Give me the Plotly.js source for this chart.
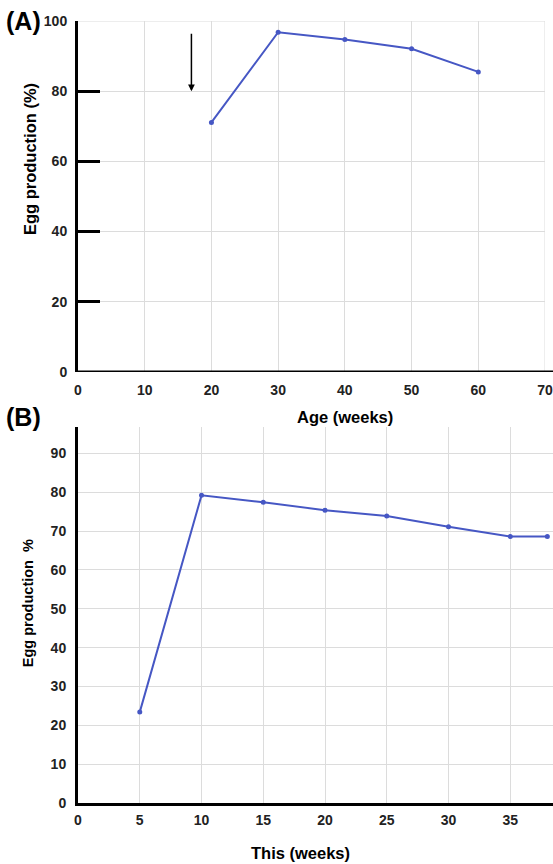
<!DOCTYPE html>
<html>
<head>
<meta charset="utf-8">
<script src="https://cdn.plot.ly/plotly-3.0.1.min.js"></script>
<style>html,body{margin:0;padding:0;background:#fff;}#chart{width:553px;height:864px;}</style>
</head>
<body>
<div id="chart"></div>
<script>
// Panel A data
const ageWeeks = [20, 30, 40, 50, 60];
const eggProdA = [71.1, 96.8, 94.7, 92.1, 85.5];
const arrowAge = 17;
const arrowTipY = 80;
// Panel B data
const thisWeeks = [5, 10, 15, 20, 25, 30, 35, 38];
const eggProdB = [23.4, 79.2, 77.4, 75.4, 73.9, 71.1, 68.6, 68.6];
// Tick labels
const xTicksA = [0, 10, 20, 30, 40, 50, 60, 70];
const yTicksA = [0, 20, 40, 60, 80, 100];
const xTicksB = [0, 5, 10, 15, 20, 25, 30, 35];
const yTicksB = [0, 10, 20, 30, 40, 50, 60, 70, 80, 90];

const lineColor = '#4657c4';
const gridColor = '#dcdcdc';
const fontFam = 'Liberation Sans, Arial, sans-serif';
const tickFont = {family: fontFam, size: 14, color: '#222', weight: 'bold'};

const traces = [
  {x: ageWeeks, y: eggProdA, xaxis: 'x', yaxis: 'y', mode: 'lines+markers',
   line: {color: lineColor, width: 2}, marker: {color: lineColor, size: 5}},
  {x: thisWeeks, y: eggProdB, xaxis: 'x2', yaxis: 'y2', mode: 'lines+markers',
   line: {color: lineColor, width: 2}, marker: {color: lineColor, size: 5}}
];

const layout = {
  width: 553, height: 864,
  margin: {l: 78, r: 0, t: 21, b: 61},
  showlegend: false,
  paper_bgcolor: '#fff', plot_bgcolor: '#fff',
  xaxis: {domain: [0, 0.9832], anchor: 'y', range: [0, 70], tickvals: xTicksA,
    showgrid: true, gridcolor: gridColor, gridwidth: 1, zeroline: false,
    showline: false, ticks: '', tickfont: tickFont, ticklabelstandoff: 8,
    ticklabeloverflow: 'allow'},
  yaxis: {domain: [0.5512, 1], anchor: 'x', range: [0, 100], tickvals: yTicksA,
    showgrid: true, gridcolor: gridColor, zeroline: false,
    showline: true, linecolor: '#000', linewidth: 3,
    ticks: 'inside', ticklen: 22, tickwidth: 3, tickcolor: '#000',
    tickfont: tickFont, ticklabelstandoff: 5},
  xaxis2: {domain: [0, 1], anchor: 'y2', range: [0, 38.46], tickvals: xTicksB,
    showgrid: true, gridcolor: gridColor, zeroline: false,
    showline: true, linecolor: '#000', linewidth: 3, ticks: '', tickfont: tickFont,
    ticklabelstandoff: 2},
  yaxis2: {domain: [0, 0.4808], anchor: 'x2', range: [0, 96.8], tickvals: yTicksB,
    showgrid: true, gridcolor: gridColor, zeroline: false,
    showline: true, linecolor: '#000', linewidth: 3, ticks: '', tickfont: tickFont,
    ticklabelstandoff: 6},
  shapes: [
    {type: 'line', xref: 'x', yref: 'y', x0: 0, x1: 70, y0: 100, y1: 100, layer: 'below',
     line: {color: gridColor, width: 1}},
    {type: 'line', xref: 'x', yref: 'y', x0: 70, x1: 70, y0: 0, y1: 100, layer: 'below',
     line: {color: gridColor, width: 1}},
    {type: 'line', xref: 'paper', yref: 'y', x0: 0, x1: 1, y0: 0, y1: 0,
     line: {color: '#000', width: 3}}
  ],
  annotations: [
    {text: '(A)', xref: 'paper', yref: 'paper', x: -0.155, y: 1.0, xanchor: 'left', yanchor: 'middle',
     yshift: 0, showarrow: false, font: {family: fontFam, size: 25, color: '#000', weight: 'bold'}},
    {text: '(B)', xref: 'paper', yref: 'paper', x: -0.155, y: 0.4808, xanchor: 'left', yanchor: 'middle',
     yshift: 10, showarrow: false, font: {family: fontFam, size: 25, color: '#000', weight: 'bold'}},
    {text: 'Egg production (%)', xref: 'paper', yref: 'paper', x: -0.101, y: 0.8235, textangle: -90,
     xanchor: 'center', yanchor: 'middle', showarrow: false,
     font: {family: fontFam, size: 16.5, color: '#000', weight: 'bold'}},
    {text: 'Egg production  %', xref: 'paper', yref: 'paper', x: -0.105, y: 0.2557, textangle: -90,
     xanchor: 'center', yanchor: 'middle', showarrow: false,
     font: {family: fontFam, size: 14.5, color: '#000', weight: 'bold'}},
    {text: 'Age (weeks)', xref: 'paper', yref: 'paper', x: 0.562, y: 0.5512, yshift: -45,
     xanchor: 'center', yanchor: 'middle', showarrow: false,
     font: {family: fontFam, size: 16.5, color: '#000', weight: 'bold'}},
    {text: 'This (weeks)', xref: 'paper', yref: 'paper', x: 0.468, y: 0, yshift: -50,
     xanchor: 'center', yanchor: 'middle', showarrow: false,
     font: {family: fontFam, size: 16.5, color: '#000', weight: 'bold'}},
    {text: '', xref: 'x', yref: 'y', x: arrowAge, y: arrowTipY, ax: 0, ay: -59,
     showarrow: true, arrowhead: 2, arrowsize: 0.9, arrowwidth: 1.5, arrowcolor: '#000'}
  ]
};

Plotly.newPlot('chart', traces, layout, {displayModeBar: false, staticPlot: true});
</script>
</body>
</html>
